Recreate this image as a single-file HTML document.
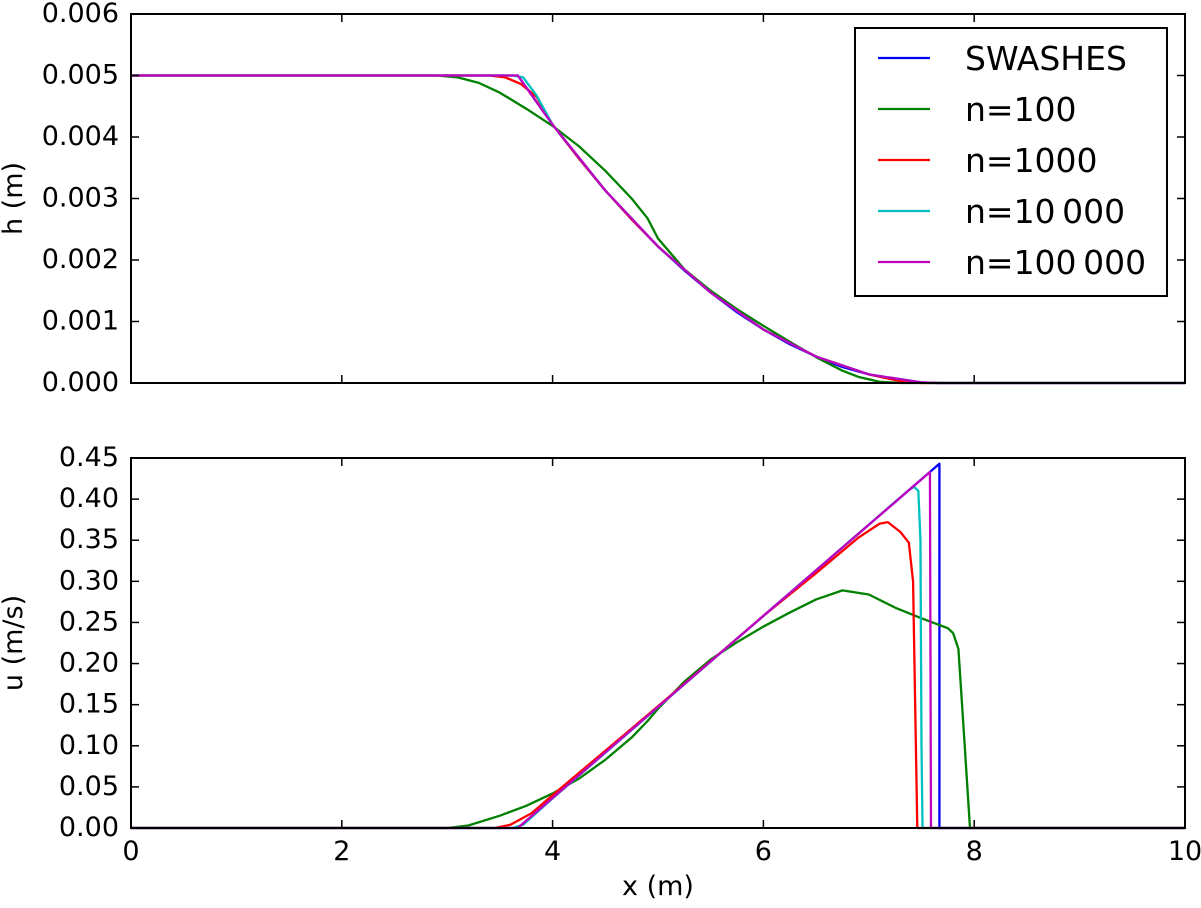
<!DOCTYPE html>
<html><head><meta charset="utf-8"><style>
body{margin:0;background:#fff;}
svg text{font-family:"DejaVu Sans","Liberation Sans",sans-serif;fill:#000;}
</style></head><body>
<svg id="c" width="1201" height="903"></svg>
<script>
const xTicks=[0,2,4,6,8,10];
const hTicks=[0,0.001,0.002,0.003,0.004,0.005,0.006];
const uTicks=[0,0.05,0.10,0.15,0.20,0.25,0.30,0.35,0.40,0.45];
const seriesNames=["SWASHES","n=100","n=1000","n=10\u2009000","n=100\u2009000"];
const seriesColors=["#0000ff","#008000","#ff0000","#00bfbf","#bf00bf"];
const hSwashes=[[0,0.005],[3.67,0.005],[4,0.0042],[4.25,0.00365],[4.5,0.00313],[4.75,0.00266],[5,0.00222],[5.25,0.00183],[5.5,0.00147],[5.75,0.00115],[6,0.00087],[6.25,0.00063],[6.5,0.00043],[6.75,0.00026],[7,0.00014],[7.25,0.00005],[7.5,0.00001],[7.67,0],[10,0]];
const h100=[[0,0.005],[2.9,0.005],[3.1,0.00497],[3.3,0.00488],[3.5,0.00472],[3.75,0.00446],[4,0.00418],[4.25,0.00385],[4.5,0.00345],[4.75,0.00300],[4.9,0.00268],[5.0,0.00235],[5.25,0.00185],[5.5,0.00150],[5.75,0.00120],[6,0.00093],[6.25,0.00067],[6.5,0.00042],[6.75,0.00020],[6.9,0.0001],[7.1,0.00002],[7.3,0],[10,0]];
const h1000=[[0,0.005],[3.4,0.005],[3.55,0.00497],[3.7,0.00486],[3.85,0.00465],[4,0.0042],[4.25,0.00365],[4.5,0.00313],[4.75,0.00266],[5,0.00222],[5.5,0.00147],[6,0.00087],[6.5,0.00043],[7,0.00014],[7.3,0.00003],[7.5,0],[10,0]];
const h10000=[[0,0.005],[3.62,0.005],[3.72,0.00497],[3.85,0.00467],[4,0.0042],[4.5,0.00313],[5,0.00222],[5.5,0.00147],[6,0.00087],[6.5,0.00043],[7,0.00014],[7.5,0.00001],[7.6,0],[10,0]];
const h100000=[[0,0.005],[3.67,0.005],[4,0.0042],[4.5,0.00313],[5,0.00222],[5.5,0.00147],[6,0.00087],[6.5,0.00043],[7,0.00014],[7.5,0.00001],[7.65,0],[10,0]];
const uSwashes=[[0,0],[3.67,0],[7.67,0.443],[7.67,0],[10,0]];
const u100=[[0,0],[3.0,0],[3.2,0.003],[3.5,0.015],[3.75,0.027],[4,0.042],[4.25,0.06],[4.5,0.083],[4.75,0.11],[4.9,0.13],[5.0,0.145],[5.25,0.178],[5.5,0.205],[5.75,0.226],[6,0.245],[6.25,0.262],[6.5,0.278],[6.75,0.289],[7,0.284],[7.25,0.268],[7.5,0.255],[7.75,0.243],[7.8,0.237],[7.85,0.218],[7.9,0.12],[7.96,0],[10,0]];
const u1000=[[0,0],[3.45,0],[3.6,0.004],[3.8,0.018],[4,0.04],[4.5,0.094],[5,0.148],[5.5,0.203],[6,0.258],[6.5,0.31],[6.9,0.353],[7.1,0.37],[7.18,0.372],[7.3,0.36],[7.38,0.347],[7.42,0.3],[7.44,0.15],[7.46,0],[10,0]];
const u10000=[[0,0],[3.62,0],[3.72,0.004],[3.8,0.013],[4,0.036],[5,0.147],[6,0.258],[7,0.369],[7.38,0.411],[7.43,0.415],[7.47,0.41],[7.49,0.35],[7.5,0.1],[7.51,0],[10,0]];
const u100000=[[0,0],[3.67,0],[7.58,0.433],[7.59,0],[10,0]];
const hData=[hSwashes,h100,h1000,h10000,h100000];
const uData=[uSwashes,u100,u1000,u10000,u100000];

const NS="http://www.w3.org/2000/svg";
const svg=document.getElementById('c');
const X0=131,X1=1185;
const FS=27;
const sx=v=>X0+(X1-X0)*v/10;
function mk(t,a,p){const e=document.createElementNS(NS,t);for(const k in a)e.setAttribute(k,a[k]);(p||svg).appendChild(e);return e;}
function panel(top,bot,ymax,ticks,fmt,data,name,ylabel,showX){
  const sy=v=>bot-(bot-top)*v/ymax;
  const g=mk('g',{});
  
  
  data.forEach((d,i)=>{
    const p=mk('polyline',{points:d.map(q=>sx(q[0])+','+sy(q[1])).join(' '),fill:'none',stroke:seriesColors[i],'stroke-width':2.3,'stroke-linejoin':'round'},g);
    
    
  });
  const fr=mk('rect',{x:X0,y:top,width:X1-X0,height:bot-top,fill:'none',stroke:'#000','stroke-width':2},g);
  
  
  xTicks.forEach(t=>{
    mk('line',{x1:sx(t),x2:sx(t),y1:bot,y2:bot-8,stroke:'#000','stroke-width':1.5},g);
    mk('line',{x1:sx(t),x2:sx(t),y1:top,y2:top+8,stroke:'#000','stroke-width':1.5},g);
    if(showX){const tx=mk('text',{x:sx(t),y:bot+32,'font-size':FS,'text-anchor':'middle'},g);tx.textContent=t;
      
      }
  });
  ticks.forEach(t=>{
    mk('line',{x1:X0,x2:X0+8,y1:sy(t),y2:sy(t),stroke:'#000','stroke-width':1.5},g);
    mk('line',{x1:X1,x2:X1-8,y1:sy(t),y2:sy(t),stroke:'#000','stroke-width':1.5},g);
    const tx=mk('text',{x:X0-12,y:sy(t)+8,'font-size':FS,'text-anchor':'end'},g);tx.textContent=fmt(t);
    
    
  });
  const yl=mk('text',{x:0,y:0,'font-size':FS,'text-anchor':'middle',transform:`translate(22,${(top+bot)/2}) rotate(-90)`},g);
  yl.textContent=ylabel;
  
  
}
panel(14,383,0.006,hTicks,t=>t.toFixed(3),hData,'h-panel','h (m)',false);
panel(458,828,0.45,uTicks,t=>t.toFixed(2),uData,'u-panel','u (m/s)',true);
const xl=mk('text',{x:(X0+X1)/2,y:895,'font-size':FS,'text-anchor':'middle'});
xl.textContent='x (m)';


const lg=mk('g',{});


mk('rect',{x:855,y:28,width:312,height:268,fill:'#fff',stroke:'#000','stroke-width':2},lg);
seriesNames.forEach((n,i)=>{
  const y=58+i*51;
  const ln=mk('line',{x1:878,x2:930,y1:y,y2:y,stroke:seriesColors[i],'stroke-width':2.3},lg);
  
  
  const t=mk('text',{x:965,y:y+12,'font-size':33},lg);t.textContent=n;
  
  
});
</script>
</body></html>
